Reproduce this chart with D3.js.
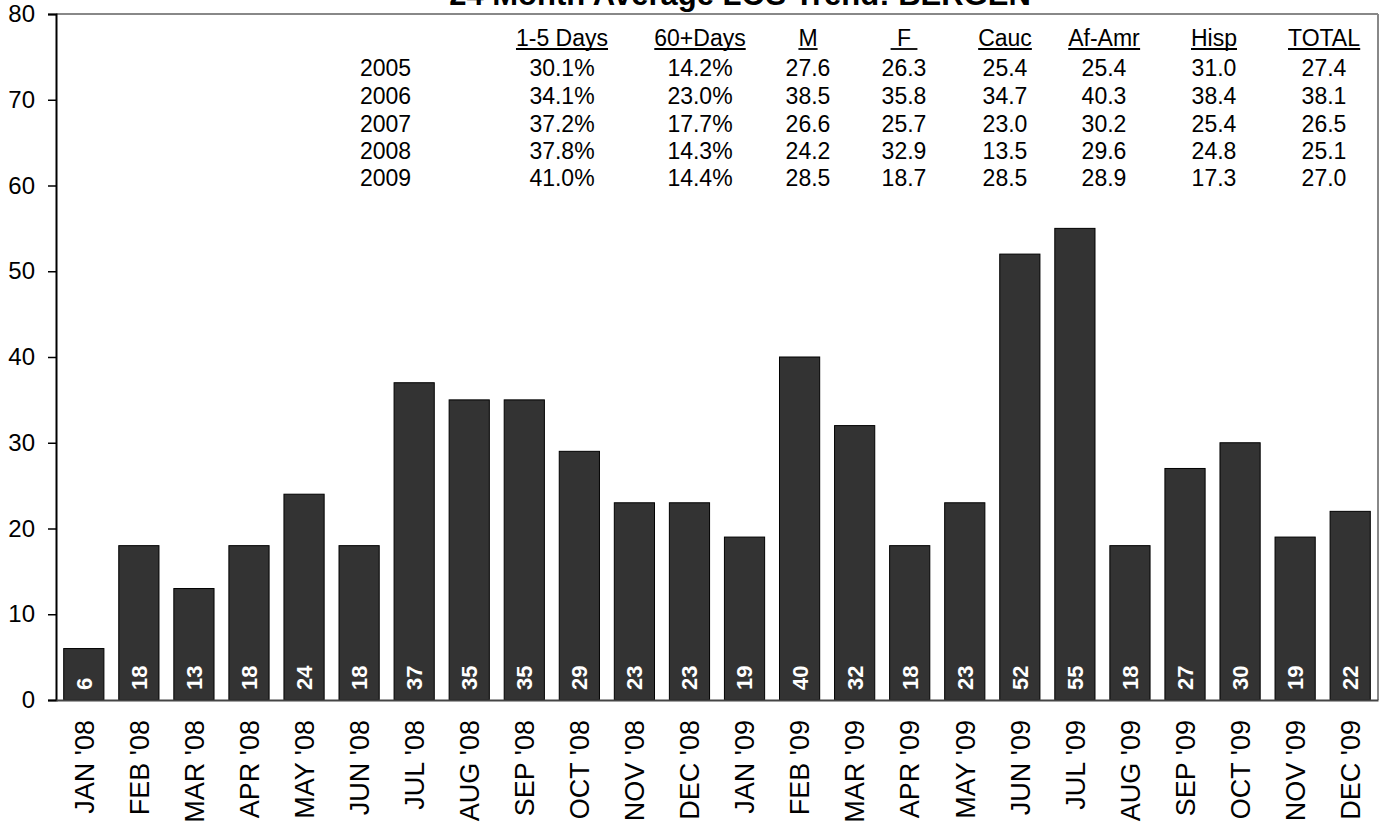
<!DOCTYPE html>
<html>
<head>
<meta charset="utf-8">
<script src="https://cdn.jsdelivr.net/npm/d3@7"></script>
<style>
  html, body { margin: 0; padding: 0; background: #fff; }
  svg { display: block; font-family: "Liberation Sans", Arial, sans-serif; }
</style>
</head>
<body>
<svg id="chart" width="1385" height="822"></svg>
<script>
// ---------- DATA ----------
const title = "24 Month Average LOS Trend: BERGEN";
const months = ["JAN '08","FEB '08","MAR '08","APR '08","MAY '08","JUN '08","JUL '08","AUG '08","SEP '08","OCT '08","NOV '08","DEC '08",
                "JAN '09","FEB '09","MAR '09","APR '09","MAY '09","JUN '09","JUL '09","AUG '09","SEP '09","OCT '09","NOV '09","DEC '09"];
const losValues = [6,18,13,18,24,18,37,35,35,29,23,23,19,40,32,18,23,52,55,18,27,30,19,22];
const yTicks = [0,10,20,30,40,50,60,70,80];

const tableYears = ["2005","2006","2007","2008","2009"];
const tableHeaders = ["1-5 Days","60+Days","M","\u00a0F\u00a0","Cauc","Af-Amr","Hisp","TOTAL"];
const col15Days = ["30.1%","34.1%","37.2%","37.8%","41.0%"];
const col60Days = ["14.2%","23.0%","17.7%","14.3%","14.4%"];
const colM      = ["27.6","38.5","26.6","24.2","28.5"];
const colF      = ["26.3","35.8","25.7","32.9","18.7"];
const colCauc   = ["25.4","34.7","23.0","13.5","28.5"];
const colAfAmr  = ["25.4","40.3","30.2","29.6","28.9"];
const colHisp   = ["31.0","38.4","25.4","24.8","17.3"];
const colTotal  = ["27.4","38.1","26.5","25.1","27.0"];
const tableColumns = [col15Days,col60Days,colM,colF,colCauc,colAfAmr,colHisp,colTotal];

// ---------- LAYOUT ----------
const svg = d3.select("#chart");
const plot = {left: 56, right: 1378, top: 14, bottom: 700};

const x = d3.scaleBand().domain(months).range([plot.left, plot.right])
  .paddingInner(0.27).paddingOuter(0.14);
const y = d3.scaleLinear().domain([0, 80]).range([plot.bottom, plot.top]);

// plot frame (top & right, gray)
svg.append("line").attr("x1", plot.left).attr("x2", plot.right).attr("y1", plot.top).attr("y2", plot.top)
  .attr("stroke", "#888").attr("stroke-width", 2);
svg.append("line").attr("x1", plot.right).attr("x2", plot.right).attr("y1", plot.top).attr("y2", plot.bottom)
  .attr("stroke", "#888").attr("stroke-width", 2);

// title
svg.append("text").attr("x", 740).attr("y", 5).attr("text-anchor", "middle")
  .attr("font-size", 31).attr("font-weight", "bold").attr("fill", "#000").text(title);

// bars
svg.append("g").selectAll("rect").data(losValues).join("rect")
  .attr("x", (d, i) => x(months[i]))
  .attr("y", d => y(d))
  .attr("width", x.bandwidth())
  .attr("height", d => y(0) - y(d))
  .attr("fill", "#333333")
  .attr("stroke", "#000").attr("stroke-width", 1);

// bar value labels (rotated, white bold)
svg.append("g").selectAll("text").data(losValues).join("text")
  .attr("transform", (d, i) => `translate(${x(months[i]) + x.bandwidth() / 2},${plot.bottom - 10}) rotate(-90)`)
  .attr("dy", "0.36em")
  .attr("text-anchor", "start")
  .attr("font-size", 22).attr("font-weight", "bold").attr("fill", "#fff")
  .text(d => d);

// y axis
const yAxis = d3.axisLeft(y).tickValues(yTicks).tickSize(8).tickPadding(13);
const gy = svg.append("g").attr("transform", `translate(${plot.left},0)`).call(yAxis);
gy.select(".domain").attr("stroke", "#000").attr("stroke-width", 2);
gy.selectAll(".tick line").attr("stroke", "#000").attr("stroke-width", 1.5);
gy.selectAll(".tick text").attr("font-size", 24).attr("fill", "#000")
  .attr("font-family", "'Liberation Sans', Arial, sans-serif");

// x axis
const xAxis = d3.axisBottom(x).tickSize(0).tickPadding(0);
const gx = svg.append("g").attr("transform", `translate(0,${plot.bottom})`).call(xAxis);
gx.select(".domain").attr("stroke", "#444").attr("stroke-width", 2);
gx.selectAll(".tick text")
  .attr("font-size", 27).attr("fill", "#000")
  .attr("font-family", "'Liberation Sans', Arial, sans-serif")
  .attr("text-anchor", "end")
  .attr("transform", "translate(0,20) rotate(-90)")
  .attr("x", 0).attr("y", 0).attr("dy", "0.36em");

// ---------- TABLE ----------
const colCenters = [562, 700, 808, 904, 1005, 1104, 1214, 1324];
const headerBaseline = 45.5;
const rowBaselines = [76, 104, 131.5, 158.5, 186];
const tFont = 23;

const tg = svg.append("g").attr("font-size", tFont).attr("fill", "#000");
tableHeaders.forEach((h, j) => {
  const t = tg.append("text").attr("x", colCenters[j]).attr("y", headerBaseline)
    .attr("text-anchor", "middle").style("white-space", "pre").text(h);
  const bb = t.node().getBBox();
  tg.append("line").attr("x1", bb.x).attr("x2", bb.x + bb.width)
    .attr("y1", headerBaseline + 3.5).attr("y2", headerBaseline + 3.5)
    .attr("stroke", "#000").attr("stroke-width", 1.8);
});
tableYears.forEach((yr, i) => {
  tg.append("text").attr("x", 360).attr("y", rowBaselines[i]).attr("text-anchor", "start").text(yr);
  tableColumns.forEach((col, j) => {
    tg.append("text").attr("x", colCenters[j]).attr("y", rowBaselines[i])
      .attr("text-anchor", "middle").text(col[i]);
  });
});
</script>
</body>
</html>
